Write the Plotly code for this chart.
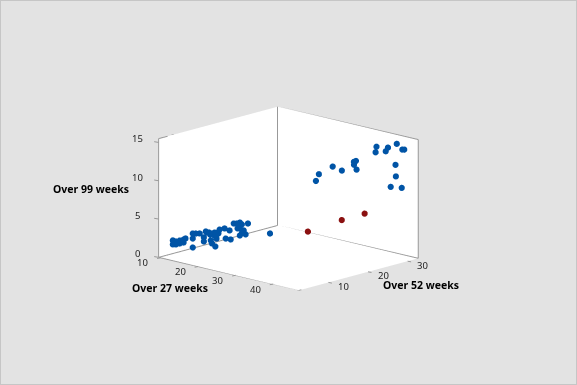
import plotly.graph_objects as go

# Blue group
over27_blue = [12.3,12.3,12.8,12.8,13.5,13.5,14.1,14.4,14.1,15.6,15.6,16.1,16.7,17.7,17.4,17.4,18.4,15.6,18.5,18.2,18.7,19.2,19.5,20.0,19.8,20.8,21.6,21.0,21.8,22.3,22.8,23.3,23.6,22.9,23.3,24.6,23.6,23.9,24.2,23.3,18.7,19.3,17.9,19.2,
               23.2,
               40.7,41.1,44.1,42.8,42.0,45.9,46.2,44.5,44.6,42.9,45.0,36.8,37.0,36.5,37.4,33.8,32.4,30.0,29.1]
over52_blue = [3.6,3.6,3.9,3.9,4.2,4.2,4.6,4.8,4.6,5.5,5.5,5.8,6.2,6.8,6.6,6.6,7.2,5.5,7.3,7.1,7.4,7.6,7.8,8.1,8.0,8.6,9.1,8.7,9.2,9.5,9.8,10.1,10.3,9.9,10.1,10.9,10.3,10.5,10.7,10.1,7.4,7.7,6.9,7.6,
               17.8,
               28.1,27.5,30.0,29.0,29.2,29.7,29.9,29.3,29.3,29.6,30.4,26.6,25.9,26.4,26.2,25.9,24.9,23.7,23.8]
over99_blue = [2.42,1.90,2.30,1.91,2.46,2.07,2.60,2.75,2.21,3.43,2.78,3.45,3.47,3.76,2.98,2.45,3.39,1.61,2.61,3.65,3.53,3.29,2.90,4.09,3.57,4.26,4.02,2.95,2.85,4.95,4.97,5.11,4.87,4.32,4.33,5.02,3.69,4.09,3.58,3.42,2.23,1.86,3.64,3.68,
               2.6,
               14.5,13.9,15.0,14.5,13.9,14.5,14.5,12.4,10.9,9.3,9.3,12.4,12.4,11.9,11.4,10.9,11.4,10.3,9.3]
# Red group
over27_red = [36.7,32.4,27.6]
over52_red = [28.9,27.2,23.2]
over99_red = [5.2,4.1,2.6]

x_ticks = [10,20,30,40]
y_ticks = [10,20,30]
z_ticks = [0,5,10,15]
x_range = [9.5, 47]
y_range = [2.7, 32.7]
z_range = [0, 15.5]

BG = "#e3e3e3"
LINE = "#999999"
TXT = "#222222"
FONT = "Noto Sans"

def axis(rng, ticks):
    return dict(title=dict(text=""), range=rng, tickvals=ticks, showticklabels=False,
                showgrid=False, zeroline=False, showbackground=True, backgroundcolor="white",
                showline=False, ticks="", showspikes=False)

x0, x1 = x_range; y0, y1 = y_range; z0, z1 = z_range
edges = [((x0,y0,z0),(x0,y0,z1)), ((x0,y1,z0),(x0,y1,z1)), ((x1,y1,z0),(x1,y1,z1)),
         ((x0,y0,z1),(x0,y1,z1)), ((x0,y1,z1),(x1,y1,z1)),
         ((x0,y0,z0),(x1,y0,z0)), ((x1,y0,z0),(x1,y1,z0)), ((x1,y1,z0),(x0,y1,z0)), ((x0,y1,z0),(x0,y0,z0))]
ex, ey, ez = [], [], []
for a, b in edges:
    ex += [a[0], b[0], None]; ey += [a[1], b[1], None]; ez += [a[2], b[2], None]

fig = go.Figure()
fig.add_trace(go.Scatter3d(x=ex, y=ey, z=ez, mode="lines", line=dict(color=LINE, width=2), hoverinfo="skip"))
fig.add_trace(go.Scatter3d(x=over27_blue, y=over52_blue, z=over99_blue, mode="markers",
                           marker=dict(size=3.6, color="#0054a6", line=dict(width=0))))
fig.add_trace(go.Scatter3d(x=over27_red, y=over52_red, z=over99_red, mode="markers",
                           marker=dict(size=3.6, color="#8b1010", line=dict(width=0))))

def note(x, y, z, text, dx, dy, bold=False):
    return dict(x=x, y=y, z=z, text=f"<b>{text}</b>" if bold else text, showarrow=False,
                xshift=dx, yshift=dy, font=dict(family=FONT, size=10.5 if bold else 9.5, color="black" if bold else TXT))

def tick(x, y, z, ax, ay):
    return dict(x=x, y=y, z=z, text=" ", showarrow=True, arrowhead=0, arrowwidth=1, arrowcolor=LINE,
                ax=ax, ay=ay, font=dict(size=1), standoff=0)

notes = [note(t, y0, z0, str(t), -18, -5) for t in x_ticks]
notes += [note(x1, t, z0, str(t), 15, -4) for t in y_ticks]
notes += [note(x0, y0, t, str(t), -21, 3.5) for t in z_ticks]
notes += [note(x0, y0, z0, "Over 27 weeks", 11, -31, True),
          note(x0, y0, 7.5, "Over 99 weeks", -68, 11, True),
          note(x1, y1, z0, "Over 52 weeks", 3, -27, True)]
notes += [tick(t, y0, z0, -5, 1) for t in x_ticks]
notes += [tick(x1, t, z0, 5, 1) for t in y_ticks]
notes += [tick(x0, y0, t, -6, -1) for t in z_ticks]

D = 2.0
C = 0.032
fig.update_layout(
    width=577, height=385, margin=dict(l=0, r=0, t=0, b=0), paper_bgcolor=BG, showlegend=False,
    shapes=[dict(type="rect", xref="paper", yref="paper", x0=0, x1=1, y0=0, y1=1,
                 line=dict(color="#c6c6c6", width=2))],
    scene=dict(
        domain=dict(x=[0, 1], y=[0, 1]),
        xaxis=axis(x_range, x_ticks),
        yaxis=axis(y_range, y_ticks),
        zaxis=axis(z_range, z_ticks),
        aspectmode="manual", aspectratio=dict(x=1, y=0.905, z=0.637),
        annotations=notes,
        camera=dict(eye=dict(x=0.660*D, y=-0.708*D, z=0.250*D + C), up=dict(x=0, y=0, z=1),
                    center=dict(x=0, y=0, z=C), projection=dict(type="orthographic")),
    ),
)
fig.write_html("out.html", config=dict(displayModeBar=False),
               post_script="document.body.style.margin='0';document.body.style.background='#e3e3e3';")
